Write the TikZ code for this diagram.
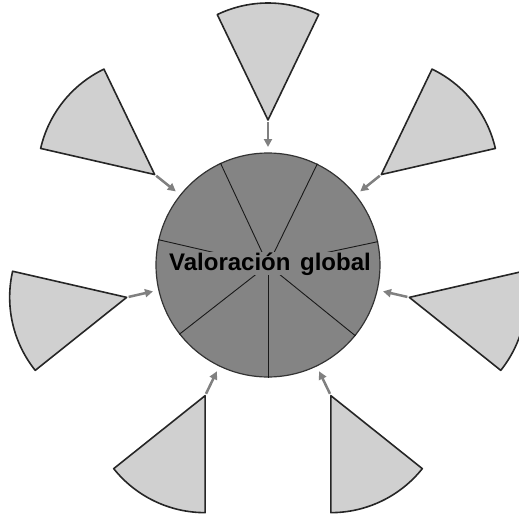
\documentclass[tikz,border=0pt]{standalone}
\usepackage{fontspec}
\setmainfont{Liberation Sans}
\usetikzlibrary{arrows.meta}
\definecolor{globalgray}{RGB}{132, 132, 132}
\definecolor{piecegray}{RGB}{208, 208, 208}
\definecolor{arrowgray}{RGB}{128, 128, 128}

\begin{document}
\begin{tikzpicture}[x=1pt, y=1pt,
        % --- TikZ Styles ---
        wholebox/.style={
            circle, draw=black!80, line width=1.2pt, fill=globalgray,
            minimum size=224pt, inner sep=0pt
        },
        labelbox/.style={
            fill=globalgray, inner sep=0pt, anchor=base,
            font=\bfseries\fontsize{24}{24}\selectfont
        },
        slice/.style={draw=black!90, line width=0.9pt},
        piece/.style={draw=black!85, line width=1.6pt, fill=piecegray, line join=round},
        arrow/.style={draw=arrowgray, line width=2.5pt, -{Triangle[length=8pt, width=8pt]}}
    ]

    \useasboundingbox (-268,-255) rectangle (251,265);

    % --- 1. WHOLE PIE ---
    \node[wholebox] (whole) at (0,0) {};

    \draw[slice] (whole.center) -- (whole.270);
    \draw[slice] (whole.center) -- (whole.321.4);
    \draw[slice] (whole.center) -- (whole.12.9);
    \draw[slice] (whole.center) -- (whole.64.3);
    \draw[slice] (whole.center) -- (whole.115.7);
    \draw[slice] (whole.center) -- (whole.167.1);
    \draw[slice] (whole.center) -- (whole.218.6);

    \node[labelbox] (valglobal) at ([xshift=2pt, yshift=-5pt]whole.center)
        {Valoración\hspace{0.4em}global};

    % --- 2. LOOSE PIECES ---
    \draw[piece] (90:145) -- ++(115.7:117) arc[start angle=115.7, end angle=64.3, radius=117] -- cycle;
    \draw[piece] (38.6:145) -- ++(64.3:117) arc[start angle=64.3, end angle=12.9, radius=117] -- cycle;
    \draw[piece] (347.1:145) -- ++(12.9:117) arc[start angle=12.9, end angle=-38.6, radius=117] -- cycle;
    \draw[piece] (295.7:145) -- ++(321.4:117) arc[start angle=321.4, end angle=270, radius=117] -- cycle;
    \draw[piece] (244.3:145) -- ++(270:117) arc[start angle=270, end angle=218.6, radius=117] -- cycle;
    \draw[piece] (192.9:145) -- ++(218.6:117) arc[start angle=218.6, end angle=167.1, radius=117] -- cycle;
    \draw[piece] (141.4:145) -- ++(167.1:117) arc[start angle=167.1, end angle=115.7, radius=117] -- cycle;

    % --- CONNECTIONS ---
    % piece tips and the points they aim at on the pie
    \coordinate (tipN)  at (90:143);    \coordinate (inN)  at (90:118);
    \coordinate (tipNE) at (38.6:143);  \coordinate (inNE) at (38.6:118);
    \coordinate (tipE)  at (347.1:143); \coordinate (inE)  at (347.1:118);
    \coordinate (tipSE) at (295.7:143); \coordinate (inSE) at (295.7:118);
    \coordinate (tipSW) at (244.3:143); \coordinate (inSW) at (244.3:118);
    \coordinate (tipW)  at (192.9:143); \coordinate (inW)  at (192.9:118);
    \coordinate (tipNW) at (141.4:143); \coordinate (inNW) at (141.4:118);

    \draw[arrow] (tipN) -- (inN);
    \draw[arrow] (tipNE) -- (inNE);
    \draw[arrow] (tipE) -- (inE);
    \draw[arrow] (tipSE) -- (inSE);
    \draw[arrow] (tipSW) -- (inSW);
    \draw[arrow] (tipW) -- (inW);
    \draw[arrow] (tipNW) -- (inNW);

\end{tikzpicture}
\end{document}
